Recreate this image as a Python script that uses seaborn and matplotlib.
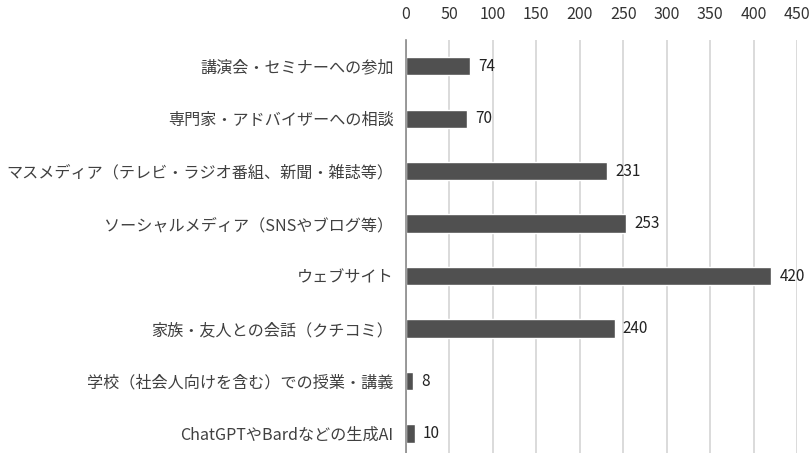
import matplotlib
matplotlib.use("Agg")
import matplotlib.pyplot as plt
import seaborn as sns
import pandas as pd

categories = [
    "講演会・セミナーへの参加",
    "専門家・アドバイザーへの相談",
    "マスメディア（テレビ・ラジオ番組、新聞・雑誌等）",
    "ソーシャルメディア（SNSやブログ等）",
    "ウェブサイト",
    "家族・友人との会話（クチコミ）",
    "学校（社会人向けを含む）での授業・講義",
    "ChatGPTやBardなどの生成AI",
]
counts = [74, 70, 231, 253, 420, 240, 8, 10]
x_ticks = [0, 50, 100, 150, 200, 250, 300, 350, 400, 450]

sns.set_theme(style="white")
plt.rcParams["font.family"] = ["Noto Sans CJK JP", "DejaVu Sans"]

df = pd.DataFrame({"item": categories, "count": counts})

fig = plt.figure(figsize=(8.11, 4.53), dpi=100)
ax = fig.add_axes([406 / 811, 0.0, (797 - 406) / 811, 1 - 40 / 453])

sns.barplot(data=df, y="item", x="count", orient="h", color="#505050",
            width=0.35, saturation=1, ax=ax, zorder=3)

ax.set_xlim(0, 450)
ax.set_ylim(7.37, -0.5)
ax.set_xticks(x_ticks)
ax.xaxis.tick_top()
ax.tick_params(axis="x", length=0, pad=12, labelsize=11.5, colors="#333333")
ax.tick_params(axis="y", length=0, pad=9, labelsize=11.6, colors="#404040")
ax.set_xlabel("")
ax.set_ylabel("")

ax.grid(axis="x", color="#d4d4d4", linewidth=1.2, zorder=0)
for side in ["top", "right", "bottom"]:
    ax.spines[side].set_visible(False)
ax.spines["left"].set_color("#8a8a8a")
ax.spines["left"].set_linewidth(1.2)
ax.spines["left"].set_zorder(4)

for container in ax.containers:
    ax.bar_label(container, labels=[str(v) for v in counts], padding=6,
                 fontsize=11, color="#222222")

fig.savefig("out.png", dpi=100)
